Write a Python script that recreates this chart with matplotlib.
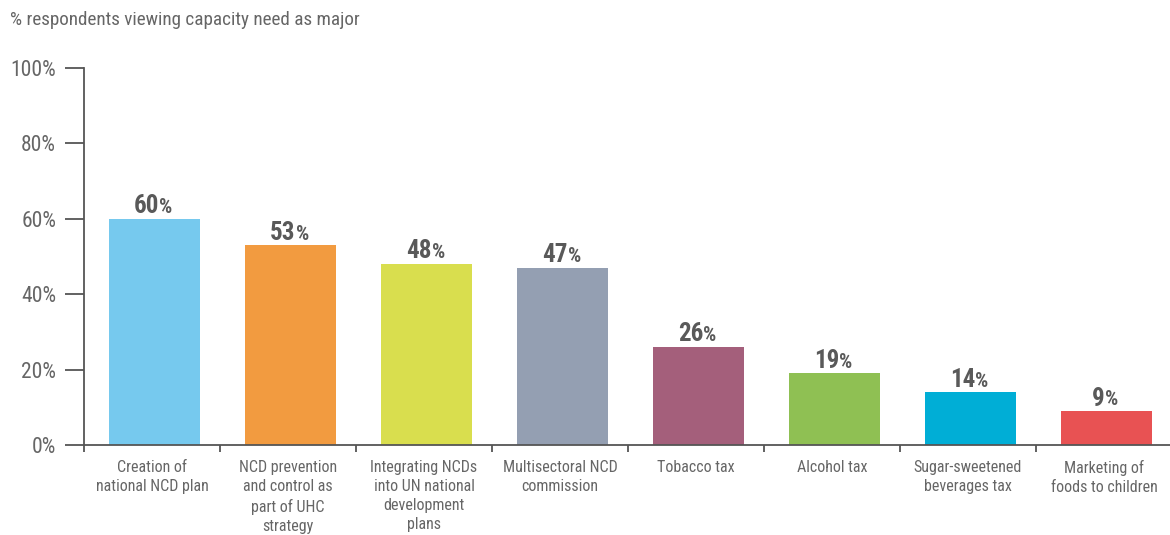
import matplotlib.pyplot as plt
import numpy as np

plt.rcParams['font.family'] = ['Roboto Condensed', 'Liberation Sans Narrow',
                               'DejaVu Sans Condensed', 'DejaVu Sans']

categories = [
    "Creation of\nnational NCD plan",
    "NCD prevention\nand control as\npart of UHC\nstrategy",
    "Integrating NCDs\ninto UN national\ndevelopment\nplans",
    "Multisectoral NCD\ncommission",
    "Tobacco tax",
    "Alcohol tax",
    "Sugar-sweetened\nbeverages tax",
    "Marketing of\nfoods to children",
]
values = [60, 53, 48, 47, 26, 19, 14, 9]
colors = ["#76C9EE", "#F29B40", "#D9DE4E", "#949FB2",
          "#A45F7B", "#8FC053", "#00AED6", "#E85253"]
yticks = [0, 20, 40, 60, 80, 100]

text_gray = "#666666"
axis_gray = "#555555"
label_gray = "#595959"

fig = plt.figure(figsize=(11.7, 5.35), dpi=100)
ax = fig.add_axes([84 / 1170, 90 / 535, 1088 / 1170, 377 / 535])

x = np.arange(len(values))
ax.bar(x + 0.02, values, width=0.67, color=colors, zorder=2)

ax.set_xlim(-0.5, len(values) - 0.5)
ax.set_ylim(0, 100)

for s in ["top", "right"]:
    ax.spines[s].set_visible(False)
for s in ["left", "bottom"]:
    ax.spines[s].set_color(axis_gray)
    ax.spines[s].set_linewidth(1.3)

ax.set_yticks(yticks)
ax.set_yticklabels([f"{v}%" for v in yticks], fontsize=15.5, color=text_gray)
ax.tick_params(axis="y", length=14, width=1.3, color=axis_gray, pad=6)

# category labels at bar centres, boundary ticks between categories
ax.set_xticks(x)
ax.set_xticklabels(categories, fontsize=11.5, color=text_gray, linespacing=1.33)
ax.tick_params(axis="x", which="major", length=0, pad=11)
ax.set_xticks(np.arange(-0.5, len(values) - 0.5, 1.0), minor=True)
ax.tick_params(axis="x", which="minor", length=5, width=1.3, color=axis_gray)

for xi, v in zip(x, values):
    num = ax.annotate(f"{v}", xy=(xi + 0.02, v), xytext=(-6, 4), textcoords="offset points",
                      ha="center", va="baseline", fontsize=18, fontweight="bold",
                      color=label_gray)
    ax.annotate("%", xy=(1, 0), xycoords=num, xytext=(0.3, 0.8), textcoords="offset points",
                ha="left", va="bottom", fontsize=15, fontweight="semibold", color=label_gray)

fig.text(10 / 1170, 1 - 20 / 535, "% respondents viewing capacity need as major",
         fontsize=13.8, color=text_gray, va="center", ha="left")

fig.savefig("out.png", dpi=100)
